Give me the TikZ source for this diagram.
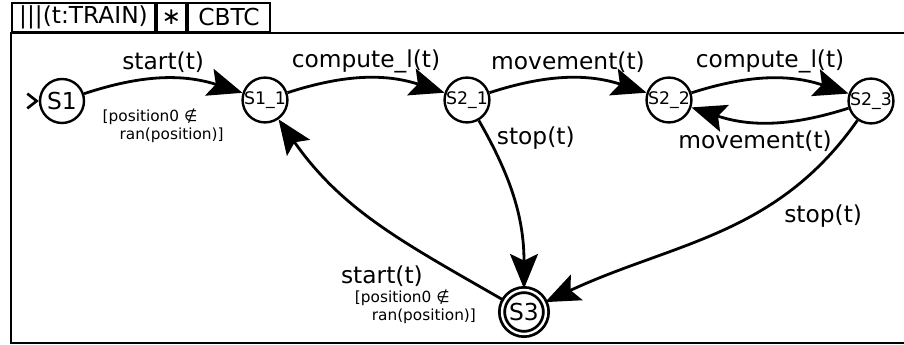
\documentclass[tikz,border=0pt]{standalone}
\usepackage{fontspec}
\setmainfont{DejaVu Sans}
\usetikzlibrary{arrows.meta,positioning}

\begin{document}
\begin{tikzpicture}[x=0.75pt,y=-0.75pt,
  every node/.style = {font=\fontsize{17.5}{20}\selectfont},
  tab/.style = {draw, line width=1.5pt, minimum height=21.75pt,
    inner sep=0pt, anchor=south west},
  statenode/.style = {circle, draw, fill=white, line width=1.8pt,
    minimum size=33pt, inner sep=0pt},
  substate/.style = {statenode, font=\fontsize{13}{15}\selectfont},
  finalnode/.style = {statenode, double, double distance=1.8pt,
    line width=2.1pt, minimum size=33pt},
  guard/.style = {font=\fontsize{11.5}{14}\selectfont, align=left, inner sep=1pt},
  transition/.style = {line width=2.1pt,
    -{Stealth[length=26pt,width=21pt,inset=5pt]}}]
  \useasboundingbox (0,0) rectangle (904,345);
  \draw[line width=2pt] (904,33) -- (11,33) -- (11,343) -- (904,343);
  \node[tab, minimum width=107.25pt] (proc) at (11,33) {|||(t:TRAIN)};
  \node[tab, minimum width=21.75pt, right=0pt of proc] (star) {∗};
  \node[tab, minimum width=61.5pt, right=0pt of star] (sys) {CBTC};

  \node[statenode] (s1) at (62,101) {S1};
  \node[substate] (s11) at (265,100) {S1\_1};
  \node[substate] (s21) at (467,100) {S2\_1};
  \node[substate] (s22) at (669,100) {S2\_2};
  \node[substate] (s23) at (871,101) {S2\_3};
  \node[finalnode] (s3) at (524,312) {S3};

  \coordinate (init) at ([xshift=-1pt]s1.west);
  \draw[line width=2pt, -{Straight Barb[length=7pt,width=11pt]}] (init) -- (s1);

  \draw[transition] (s1) to[bend left=18] node[above] {start(t)}
    node[guard, below=20pt] {[position0 ∉\\\hspace*{1.1em}ran(position)]} (s11);
  \draw[transition] (s11) to[bend left=18] node[above] {compute\_l(t)} (s21);
  \draw[transition] (s21) to[bend left=18] node[above] {movement(t)} (s22);
  \draw[transition] (s22) to[bend left=18] node[above] {compute\_l(t)} (s23);
  \draw[transition] (s23) to[bend left=18] node[pos=.6, below=3pt] {movement(t)} (s22);
  \draw[transition] (s21) to[out=-60,in=90] node[pos=.1, right=2pt] {stop(t)} (s3);
  \draw[transition] (s23) to[out=-125,in=25] node[pos=.3, below right] {stop(t)} (s3);
  \draw[transition] (s3) to[out=150,in=-55]
    node[pos=.26, anchor=north east, xshift=-4pt] {start(t)}
    node[guard, pos=.05, anchor=north east, xshift=-8pt, yshift=4pt]
      {[position0 ∉\\\hspace*{1.1em}ran(position)]} (s11);
\end{tikzpicture}
\end{document}
